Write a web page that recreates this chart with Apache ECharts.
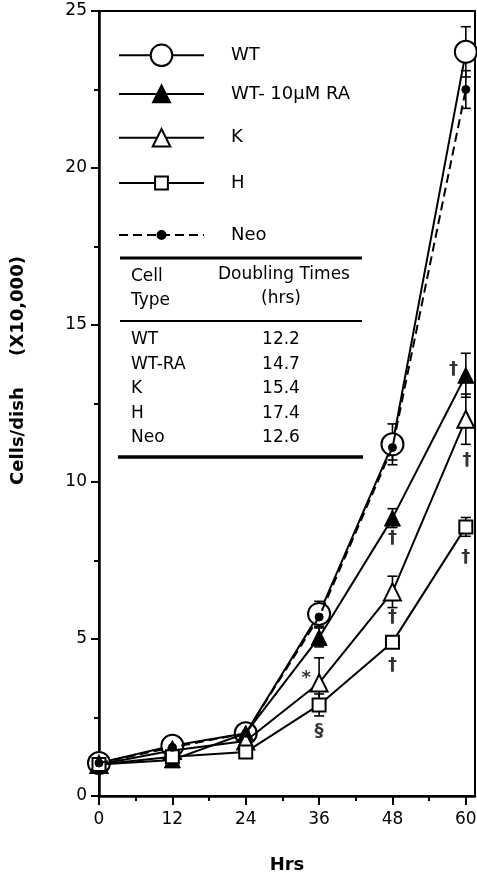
<!DOCTYPE html>
<html>
<head>
<meta charset="utf-8">
<script src="https://cdn.jsdelivr.net/npm/echarts@6/dist/echarts.min.js"></script>
<style>
html,body{margin:0;padding:0;background:#fff;}
#chart{width:477px;height:878px;}
</style>
</head>
<body>
<div id="chart"></div>
<script>
// ---- data ----
var hours = [0, 12, 24, 36, 48, 60];
var wtValues    = [1.05, 1.6, 2.0, 5.8, 11.2, 23.7];
var wtErr       = [0.1, 0.1, 0.15, 0.4, 0.65, 0.8];
var wtRaValues  = [1.0, 1.15, 2.0, 5.05, 8.85, 13.4];
var wtRaErr     = [0.05, 0.1, 0.1, 0.3, 0.3, 0.7];
var kValues     = [1.0, 1.45, 1.75, 3.6, 6.5, 12.0];
var kErr        = [0.05, 0.1, 0.1, 0.8, 0.5, 0.8];
var hValues     = [1.0, 1.25, 1.4, 2.9, 4.9, 8.57];
var hErr        = [0.05, 0.05, 0.1, 0.35, 0.15, 0.3];
var neoValues   = [1.05, 1.55, 2.0, 5.7, 11.1, 22.5];
var neoErr      = [0.05, 0.1, 0.1, 0.3, 0.4, 0.6];
var seriesNames = ['WT', 'WT- 10\u00b5M RA', 'K', 'H', 'Neo'];
var xTicks = [0, 12, 24, 36, 48, 60];
var xMinorTicks = [0, 6, 12, 18, 24, 30, 36, 42, 48, 54, 60];
// significance marks: [hour, value, mark]
var annotations = [
  [48, 8.2, '\u2020'], [48, 5.7, '\u2020'], [48, 4.15, '\u2020'],
  [36, 2.07, '\u00a7'], [33.9, 3.75, '*'],
  [58.0, 13.6, '\u2020'], [60.2, 10.7, '\u2020'], [60.0, 7.6, '\u2020']
];
// inset table
var tableHeader1 = ['Cell', 'Doubling Times'];
var tableHeader2 = ['Type', '(hrs)'];
var tableTypes = ['WT', 'WT-RA', 'K', 'H', 'Neo'];
var doublingTimes = ['12.2', '14.7', '15.4', '17.4', '12.6'];

var FONT = '"DejaVu Sans", Verdana, sans-serif';

function pairs(vals) { return hours.map(function (h, i) { return [h, vals[i]]; }); }
function errs(vals, e) { return hours.map(function (h, i) { return [h, vals[i] - e[i], vals[i] + e[i]]; }); }

function errRender(params, api) {
  var x = api.value(0);
  var lo = api.coord([x, api.value(1)]);
  var hi = api.coord([x, api.value(2)]);
  var w = 5;
  var st = { stroke: '#000', lineWidth: 1.6 };
  return {
    type: 'group',
    children: [
      { type: 'line', shape: { x1: lo[0], y1: lo[1], x2: hi[0], y2: hi[1] }, style: st },
      { type: 'line', shape: { x1: lo[0] - w, y1: lo[1], x2: lo[0] + w, y2: lo[1] }, style: st },
      { type: 'line', shape: { x1: hi[0] - w, y1: hi[1], x2: hi[0] + w, y2: hi[1] }, style: st }
    ]
  };
}

var lineDefs = [
  { name: seriesNames[0], vals: wtValues, err: wtErr, symbol: 'circle', size: 22, fill: '#fff', dash: 'solid', lh: 27 },
  { name: seriesNames[1], vals: wtRaValues, err: wtRaErr, symbol: 'triangle', size: 16, fill: '#000', dash: 'solid', lh: 21 },
  { name: seriesNames[2], vals: kValues, err: kErr, symbol: 'triangle', size: 17, fill: '#fff', dash: 'solid', lh: 22 },
  { name: seriesNames[3], vals: hValues, err: hErr, symbol: 'rect', size: 13, fill: '#fff', dash: 'solid', lh: 16 },
  { name: seriesNames[4], vals: neoValues, err: neoErr, symbol: 'circle', size: 8, fill: '#000', dash: [9, 5], lh: 10 }
];
var legendRowY = [57, 95, 139, 182, 231];

var series = [];
lineDefs.forEach(function (d) {
  series.push({
    type: 'custom', name: d.name + ' err', renderItem: errRender,
    data: errs(d.vals, d.err), encode: { x: 0, y: [1, 2] }, z: 1, silent: true
  });
});
lineDefs.forEach(function (d, i) {
  series.push({
    type: 'line', name: d.name, data: pairs(d.vals), z: 3 + i,
    symbol: d.symbol, symbolSize: d.size, showAllSymbol: true,
    lineStyle: { color: '#000', width: 2, type: d.dash },
    itemStyle: { color: d.fill, borderColor: '#000', borderWidth: d.fill === '#fff' ? 2 : 1 },
    emphasis: { disabled: true }, animation: false
  });
});
series.push({
  type: 'scatter', name: 'marks', data: annotations, symbolSize: 1, z: 10,
  itemStyle: { color: 'rgba(0,0,0,0)' },
  label: { show: true, position: 'inside', formatter: function (p) { return p.value[2]; },
           color: '#000', fontSize: 18, fontWeight: 'bold', fontFamily: FONT },
  silent: true
});

var legends = lineDefs.map(function (d, i) {
  return {
    data: [d.name], left: 118, top: legendRowY[i] - d.lh / 2, padding: 0,
    itemWidth: 85, itemHeight: d.lh, selectedMode: false,
    textStyle: { color: '#000', fontSize: 18, fontFamily: FONT, padding: [0, 0, 0, 22] }
  };
});

var graphics = [];
function hline(y, x1, x2, w) {
  graphics.push({ type: 'line', shape: { x1: x1, y1: y, x2: x2, y2: y }, style: { stroke: '#000', lineWidth: w }, z: 20 });
}
function txt(x, y, s, align) {
  graphics.push({ type: 'text', x: x, y: y, z: 20,
    style: { text: s, fill: '#000', font: '17px ' + FONT, textAlign: align, textVerticalAlign: 'middle' } });
}
hline(258, 120, 362, 3);
hline(321, 120, 362, 2);
hline(457, 118, 363, 3.5);
txt(131, 277, tableHeader1[0], 'left');
txt(284, 275, tableHeader1[1], 'center');
txt(131, 301, tableHeader2[0], 'left');
txt(281, 299, tableHeader2[1], 'center');
tableTypes.forEach(function (t, i) {
  var y = 340 + i * 24.5;
  txt(131, y, t, 'left');
  txt(281, y, doublingTimes[i], 'center');
});

var chart = echarts.init(document.getElementById('chart'), null, { renderer: 'canvas' });
chart.setOption({
  animation: false,
  backgroundColor: '#fff',
  grid: { left: 99, right: 2, top: 11, bottom: 82, show: true, borderColor: '#000', borderWidth: 2,
          containLabel: false, outerBoundsMode: 'none' },
  legend: legends,
  xAxis: [{
    type: 'value', min: 0, max: 61.5,
    name: 'Hrs', nameLocation: 'middle', nameGap: 60,
    nameTextStyle: { color: '#000', fontSize: 18, fontWeight: 'bold', fontFamily: FONT },
    axisLine: { show: true, onZero: false, lineStyle: { color: '#000', width: 2.5 } },
    axisTick: { show: true, length: 5, customValues: xMinorTicks, lineStyle: { color: '#000', width: 2 } },
    axisLabel: { customValues: xTicks, color: '#000', fontSize: 17, margin: 15, fontFamily: FONT },
    splitLine: { show: false }
  }, {
    type: 'value', min: 0, max: 61.5, position: 'bottom',
    axisLine: { show: false },
    axisTick: { show: true, length: 9, customValues: xTicks, lineStyle: { color: '#000', width: 2 } },
    axisLabel: { show: false },
    splitLine: { show: false }
  }],
  yAxis: {
    type: 'value', min: 0, max: 25, interval: 5,
    name: 'Cells/dish     (X10,000)', nameLocation: 'middle', nameGap: 72,
    nameTextStyle: { color: '#000', fontSize: 18, fontWeight: 'bold', fontFamily: FONT, padding: [0, 0, 0, 66] },
    axisLine: { show: true, lineStyle: { color: '#000', width: 2.5 } },
    axisTick: { show: true, length: 8, lineStyle: { color: '#000', width: 2 } },
    minorTick: { show: true, splitNumber: 2, length: 5, lineStyle: { color: '#000', width: 2 } },
    axisLabel: { color: '#000', fontSize: 17, margin: 12, fontFamily: FONT },
    splitLine: { show: false }
  },
  graphic: graphics,
  series: series
});
</script>
</body>
</html>
